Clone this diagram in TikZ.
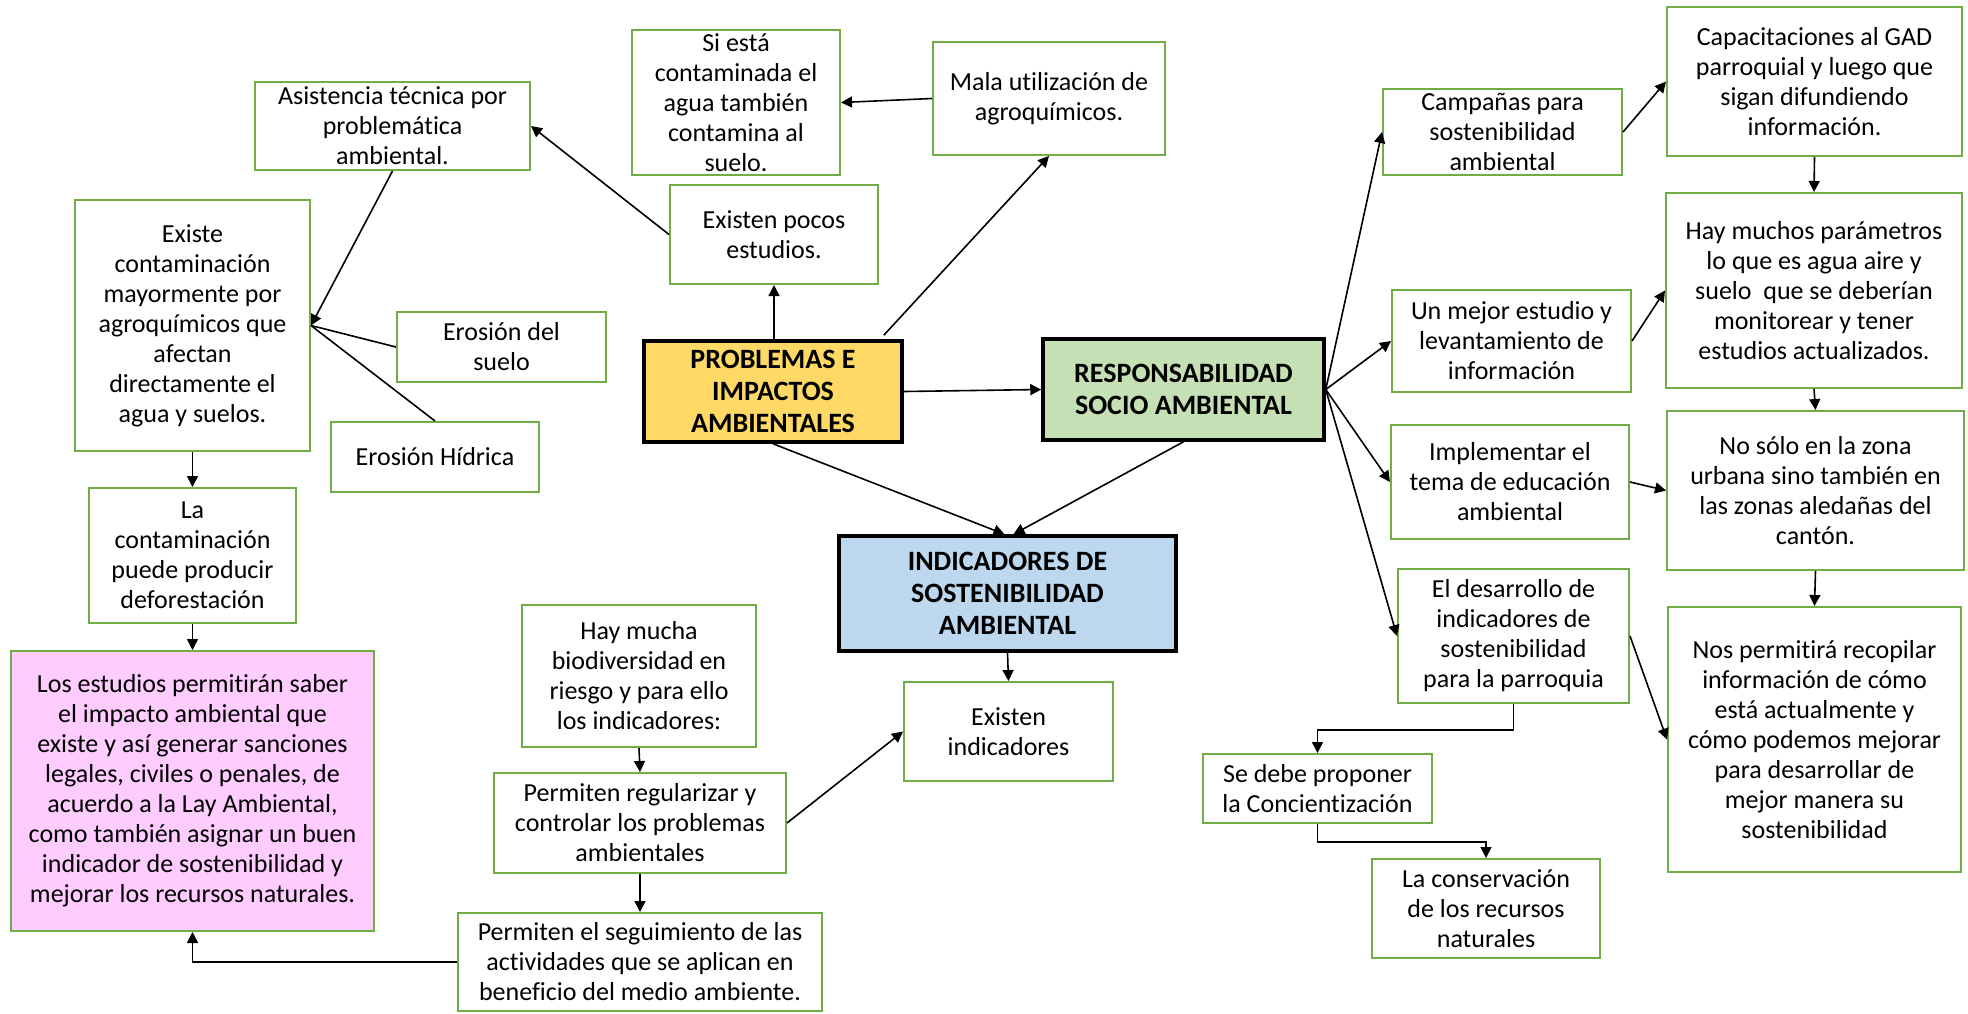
\documentclass[tikz,border=0pt]{standalone}
\usepackage{fontspec}
\setmainfont{Carlito}[Ligatures=NoCommon]
\usetikzlibrary{arrows.meta,calc}

\definecolor{boxgreen}{HTML}{70AD47}
\definecolor{hdyellow}{HTML}{FFD966}
\definecolor{hdgreen}{HTML}{C5E0B4}
\definecolor{hdblue}{HTML}{BDD7EE}
\definecolor{notepink}{HTML}{FFCCFF}

\newcommand{\bodyfont}{\fontsize{26pt}{30pt}\selectfont}
\newcommand{\headfont}{\fontsize{28pt}{32pt}\selectfont\bfseries}

\tikzset{
  gbox/.style={draw=boxgreen, line width=2pt, fill=white, align=center,
               inner sep=0pt, font=\bodyfont},
  hbox/.style={draw=black, line width=3.5pt, align=center,
               inner sep=0pt, font=\headfont},
  arr/.style={line width=1.6pt, -{Triangle[width=11pt,length=11pt]}},
  link/.style={line width=1.6pt},
}

\begin{document}
\begin{tikzpicture}[x=1pt,y=-1pt]
\fill[white] (0,0) rectangle (1968,1013);
\useasboundingbox (0,0) rectangle (1968,1013);

% ---- central topics ----
\node[hbox, fill=hdyellow, minimum width=258pt, minimum height=101pt] (prob) at (773,391.5)
  {PROBLEMAS E\\IMPACTOS\\AMBIENTALES};
\node[hbox, fill=hdgreen, minimum width=281pt, minimum height=101pt] (resp) at (1183.5,389.5)
  {RESPONSABILIDAD\\SOCIO AMBIENTAL};
\node[hbox, fill=hdblue, minimum width=337pt, minimum height=115pt] (indic) at (1007.5,593.5)
  {INDICADORES DE\\SOSTENIBILIDAD\\AMBIENTAL};

% ---- problems branch ----
\node[gbox, minimum width=275pt, minimum height=88pt] (asis) at (392.5,126)
  {Asistencia técnica por\\problemática\\ambiental.};
\node[gbox, minimum width=235pt, minimum height=251pt] (existe) at (192.5,325.5)
  {Existe\\contaminación\\mayormente por\\agroquímicos que\\afectan\\directamente el\\agua y suelos.};
\node[gbox, minimum width=209pt, minimum height=70pt] (erosuelo) at (501.5,347)
  {Erosión del\\suelo};
\node[gbox, minimum width=208pt, minimum height=70pt] (erohid) at (435,457)
  {Erosión Hídrica};
\node[gbox, minimum width=207pt, minimum height=135pt] (lacont) at (192.5,555.5)
  {La\\contaminación\\puede producir\\deforestación};
\node[gbox, fill=notepink, minimum width=363pt, minimum height=280pt] (pink) at (192.5,791)
  {Los estudios permitirán saber\\el impacto ambiental que\\existe y así generar sanciones\\legales, civiles o penales, de\\acuerdo a la Lay Ambiental,\\como también asignar un buen\\indicador de sostenibilidad y\\mejorar los recursos naturales.};
\node[gbox, minimum width=208pt, minimum height=145pt] (siesta) at (736,102.5)
  {Si está\\contaminada el\\agua también\\contamina al\\suelo.};
\node[gbox, minimum width=232pt, minimum height=113pt] (mala) at (1049,98.5)
  {Mala utilización de\\agroquímicos.};
\node[gbox, minimum width=208pt, minimum height=99pt] (pocos) at (774,234.5)
  {Existen pocos\\estudios.};

% ---- indicators branch ----
\node[gbox, minimum width=209pt, minimum height=99pt] (exind) at (1008.5,731.5)
  {Existen\\indicadores};
\node[gbox, minimum width=234pt, minimum height=142pt] (haymucha) at (639,676)
  {Hay mucha\\biodiversidad en\\riesgo y para ello\\los indicadores:};
\node[gbox, minimum width=292pt, minimum height=100pt] (permreg) at (640,823)
  {Permiten regularizar y\\controlar los problemas\\ambientales};
\node[gbox, minimum width=364pt, minimum height=98pt] (permseg) at (640,962)
  {Permiten el seguimiento de las\\actividades que se aplican en\\beneficio del medio ambiente.};

% ---- responsibility branch ----
\node[gbox, minimum width=239pt, minimum height=86pt] (campanas) at (1502.5,132)
  {Campañas para\\sostenibilidad\\ambiental};
\node[gbox, minimum width=295pt, minimum height=149pt] (capac) at (1814.5,81.5)
  {Capacitaciones al GAD\\parroquial y luego que\\sigan difundiendo\\información.};
\node[gbox, minimum width=239pt, minimum height=102pt] (unmejor) at (1511.5,341)
  {Un mejor estudio y\\levantamiento de\\información};
\node[gbox, minimum width=296pt, minimum height=195pt] (haymuchos) at (1814,290.5)
  {Hay muchos parámetros\\lo que es agua aire y\\suelo\ \ que se deberían\\monitorear y tener\\estudios actualizados.};
\node[gbox, minimum width=238pt, minimum height=114pt] (implem) at (1510,482)
  {Implementar el\\tema de educación\\ambiental};
\node[gbox, minimum width=297pt, minimum height=159pt] (nosolo) at (1815.5,490.5)
  {No sólo en la zona\\urbana sino también en\\las zonas aledañas del\\cantón.};
\node[gbox, minimum width=231pt, minimum height=134pt] (desarr) at (1513.5,636)
  {El desarrollo de\\indicadores de\\sostenibilidad\\para la parroquia};
\node[gbox, minimum width=293pt, minimum height=265pt] (nospermit) at (1814.5,739.5)
  {Nos permitirá recopilar\\información de cómo\\está actualmente y\\cómo podemos mejorar\\para desarrollar de\\mejor manera su\\sostenibilidad};
\node[gbox, minimum width=229pt, minimum height=69pt] (sedebe) at (1317.5,788.5)
  {Se debe proponer\\la Concientización};
\node[gbox, minimum width=228pt, minimum height=99pt] (laconserv) at (1486,908.5)
  {La conservación\\de los recursos\\naturales};

% ---- connectors: problems ----
\draw[arr] (prob.north -| pocos.south) -- (pocos.south);
\draw[arr] ([xshift=-20pt,yshift=4pt]prob.north east) -- (mala.south);
\draw[arr] (mala.west) -- (siesta.east);
\draw[arr] (pocos.west) -- (asis.east);
\draw[arr] (asis.south) -- (existe.east);
\draw[link] (erosuelo.west) -- (existe.east);
\draw[link] (erohid.north) -- (existe.east);
\draw[arr] (existe.south) -- (lacont.north);
\draw[arr] (lacont.south) -- (pink.north);
\draw[arr] (prob.east) -- (resp.west);
\draw[arr] (prob.south) -- ([xshift=-3pt]indic.north);
\draw[arr] (resp.south) -- ([xshift=6pt]indic.north);

% ---- connectors: indicators ----
\draw[arr] (indic.south) -- (exind.north);
\draw[arr] (haymucha.south) -- (permreg.north);
\draw[arr] (permreg.south) -- (permseg.north);
\draw[arr] (permreg.east) -- (exind.west);
\draw[arr] (permseg.west) -| (pink.south);

% ---- connectors: responsibility ----
\draw[arr] (resp.east) -- (campanas.west);
\draw[arr] (resp.east) -- (unmejor.west);
\draw[arr] (resp.east) -- (implem.west);
\draw[arr] (resp.east) -- (desarr.west);
\draw[arr] (campanas.east) -- (capac.west);
\draw[arr] (capac.south) -- (haymuchos.north);
\draw[arr] (unmejor.east) -- (haymuchos.west);
\draw[arr] (haymuchos.south) -- (nosolo.north);
\draw[arr] (implem.east) -- (nosolo.west);
\draw[arr] (nosolo.south) -- (nospermit.north);
\draw[arr] (desarr.east) -- (nospermit.west);
\draw[arr] (desarr.south) -- ++(0,26) -| (sedebe.north);
\draw[arr] (sedebe.south) -- ++(0,18) -| (laconserv.north);
\end{tikzpicture}
\end{document}
